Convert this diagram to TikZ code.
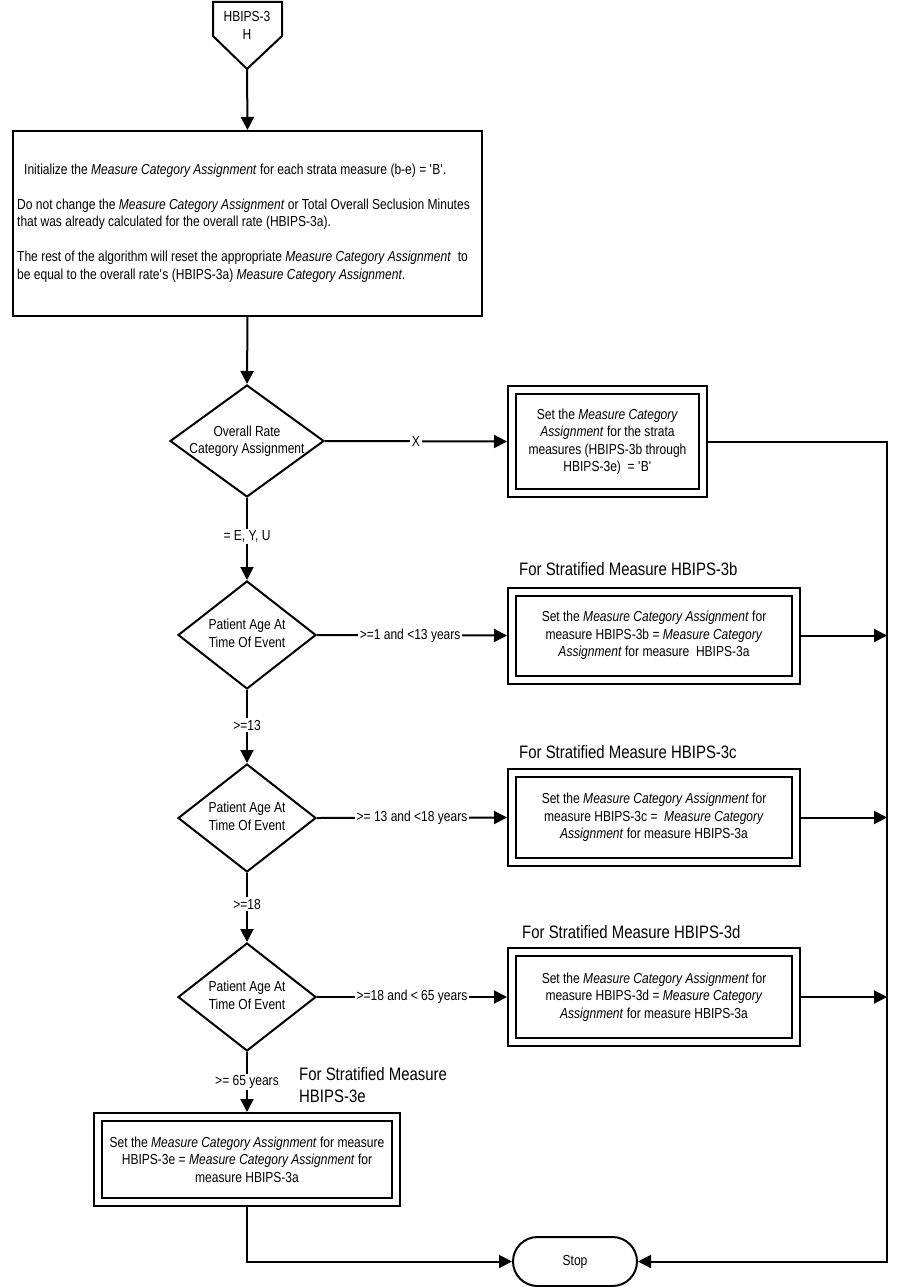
\documentclass[tikz,border=0pt]{standalone}
\usepackage{fontspec}
\setmainfont{Liberation Sans}[FakeStretch=0.83]
\usetikzlibrary{shapes.geometric,shapes.misc,arrows.meta}
\begin{document}
\begin{tikzpicture}[x=1pt,y=-1pt,
  every node/.style={font=\fontsize{14.5}{17.5}\selectfont, inner sep=0pt},
  line/.style={line width=2pt},
  arr/.style={line width=2pt,-{Triangle[length=13pt,width=13pt]}},
  dia/.style={draw,diamond,line width=2pt,minimum width=138pt,minimum height=108pt},
  dbox/.style={draw,line width=2pt,double,double distance=6pt,outer sep=5pt,align=center},
  lbl/.style={fill=white,inner sep=1.5pt},
  head/.style={font=\fontsize{18}{22}\selectfont,anchor=west,align=left}
]
\useasboundingbox (0,0) rectangle (901,1287);
\fill[white] (0,0) rectangle (901,1287);

% off-page connector
\draw[line] (213,2) -- (282,2) -- (282,36) -- (247,69) -- (213,36) -- cycle;
\node[align=center] (hbt) at (247,25.5) {HBIPS-3\\H};
\coordinate (hbtip) at (247,69);

% initial box
\node[draw,line width=2pt,minimum width=469pt,minimum height=185pt] (init) at (247.5,223.5) {};
\node[anchor=west,align=left] (initt) at (17,223) {\hspace{7pt}Initialize the \textit{Measure Category Assignment} for each strata measure (b-e) = \textquotesingle B\textquotesingle.\\[17.5pt]
Do not change the \textit{Measure Category Assignment} or Total Overall Seclusion Minutes\\
that was already calculated for the overall rate (HBIPS-3a).\\[17.5pt]
The rest of the algorithm will reset the appropriate \textit{Measure Category Assignment} \ to\\
be equal to the overall rate\textquotesingle s (HBIPS-3a) \textit{Measure Category Assignment}.};

% diamonds
\node[dia,minimum width=154pt,minimum height=112pt] (d1) at (247,441) {};
\node[align=center] (d1t) at (247,441) {Overall Rate\\Category Assignment};
\node[dia] (d2) at (247,635) {};
\node[align=center] (d2t) at (247,633.5) {Patient Age At\\Time Of Event};
\node[dia] (d3) at (247,818) {};
\node[align=center] (d3t) at (247,816.5) {Patient Age At\\Time Of Event};
\node[dia] (d4) at (247,997) {};
\node[align=center] (d4t) at (247,995.5) {Patient Age At\\Time Of Event};

% double boxes
\node[dbox,minimum width=191pt,minimum height=103pt] (xbox) at (607.5,441.5)
  {Set the \textit{Measure Category}\\\textit{Assignment} for the strata\\measures (HBIPS-3b through\\HBIPS-3e) \ = \textquotesingle B\textquotesingle};
\node[dbox,minimum width=284pt,minimum height=88pt] (b3b) at (654,635.5)
  {Set the \textit{Measure Category Assignment} for\\measure HBIPS-3b = \textit{Measure Category}\\\textit{Assignment} for measure \ HBIPS-3a};
\node[dbox,minimum width=284pt,minimum height=89pt] (b3c) at (654,817.5)
  {Set the \textit{Measure Category Assignment} for\\measure HBIPS-3c = \ \textit{Measure Category}\\\textit{Assignment} for measure HBIPS-3a};
\node[dbox,minimum width=284pt,minimum height=90pt] (b3d) at (654,997)
  {Set the \textit{Measure Category Assignment} for\\measure HBIPS-3d = \textit{Measure Category}\\\textit{Assignment} for measure HBIPS-3a};
\node[dbox,minimum width=298pt,minimum height=85pt] (b3e) at (247,1159.5)
  {Set the \textit{Measure Category Assignment} for measure\\HBIPS-3e = \textit{Measure Category Assignment} for\\measure HBIPS-3a};

% headings
\node[head] (h3b) at (519,569) {For Stratified Measure HBIPS-3b};
\node[head] (h3c) at (519,752) {For Stratified Measure HBIPS-3c};
\node[head] (h3d) at (522,932) {For Stratified Measure HBIPS-3d};
\node[head] (h3e) at (299,1085) {For Stratified Measure\\HBIPS-3e};

% stop
\node[draw,rounded rectangle,line width=2pt,minimum width=124pt,minimum height=49pt] (stop) at (575,1261.5) {Stop};

\coordinate (rt) at (887,441.5);
\coordinate (rb) at (887,1261.5);

% connectors
\draw[arr] (hbtip) -- (init.north);
\draw[arr] (init.south) -- (d1.north);
\draw[arr] (d1.east) -- node[lbl]{X} (xbox.west);
\draw[arr] (d1.south) -- node[lbl,pos=0.47]{= E, Y, U} (d2.north);
\draw[arr] (d2.east) -- node[lbl,pos=0.49]{>=1 and <13 years} (b3b.west);
\draw[arr] (d2.south) -- node[lbl,pos=0.48]{>=13} (d3.north);
\draw[arr] (d3.east) -- node[lbl]{>= 13 and <18 years} (b3c.west);
\draw[arr] (d3.south) -- node[lbl,pos=0.45]{>=18} (d4.north);
\draw[arr] (d4.east) -- node[lbl]{>=18 and < 65 years} (b3d.west);
\draw[arr] (d4.south) -- node[lbl,pos=0.5]{>= 65 years} (b3e.north);
\draw[arr] (xbox.east) -- (rt) -- (rb) -- (stop.east);
\draw[arr] (b3b.east) -- (b3b.east -| rt);
\draw[arr] (b3c.east) -- (b3c.east -| rt);
\draw[arr] (b3d.east) -- (b3d.east -| rt);
\draw[arr] (b3e.south) |- (stop.west);
\end{tikzpicture}
\end{document}
